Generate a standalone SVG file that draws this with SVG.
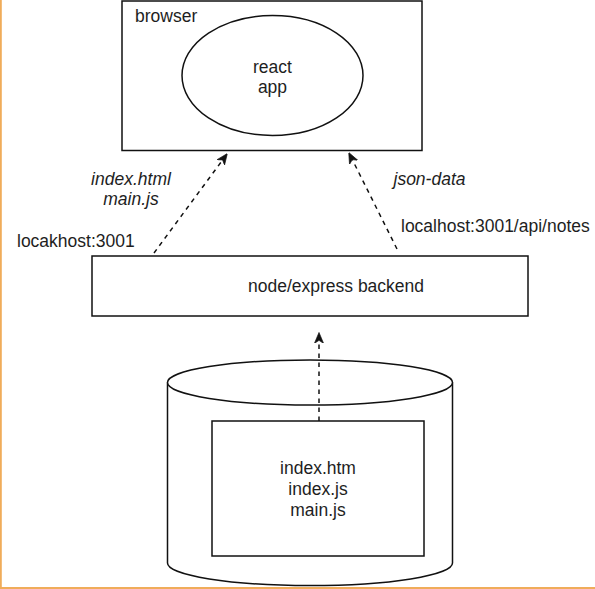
<svg xmlns="http://www.w3.org/2000/svg" width="595" height="589" viewBox="0 0 595 589">
<style>
.shape{fill:#fff;stroke:#111;stroke-width:1.5}
.txt{font-family:"Liberation Sans",Arial,sans-serif;font-size:17.5px;fill:#1e1e1e}
.it{font-style:italic}
.mid{text-anchor:middle}
.conn{fill:none;stroke:#111;stroke-width:1.5;stroke-dasharray:4.5 4.5}
</style>
<defs>
<marker id="arr" viewBox="0 0 10 10" refX="9.5" refY="5" markerWidth="11" markerHeight="11" markerUnits="userSpaceOnUse" orient="auto">
<path d="M0,0.8 L10,5 L0,9.2 L2.8,5 Z" fill="#111" stroke="#111" stroke-width="0.6"/>
</marker>
</defs>
<rect width="595" height="589" fill="#fff"/>
<g id="border">
<line x1="0.8" y1="0" x2="0.8" y2="589" stroke="#F0AC5A" stroke-width="2"/>
<line x1="0" y1="588" x2="595" y2="588" stroke="#F0AC5A" stroke-width="2"/>
</g>
<g id="browser">
<rect class="shape" x="122" y="1" width="300" height="149.5"/>
<text class="txt" x="135" y="22">browser</text>
</g>
<g id="react-app">
<ellipse class="shape" cx="272.5" cy="75.5" rx="90.5" ry="60"/>
<text class="txt mid" x="272.5" y="72.5">react</text>
<text class="txt mid" x="272.5" y="93">app</text>
</g>
<g id="backend">
<rect class="shape" x="92" y="256" width="436" height="60"/>
<text class="txt mid" x="336" y="292">node/express backend</text>
</g>
<g id="storage">
<path class="shape" d="M167.5,382.5 L167.5,563 A142.5,22.5 0 0 0 452.5,563 L452.5,382.5"/>
<ellipse class="shape" cx="310" cy="382.5" rx="142.5" ry="22.5"/>
</g>
<g id="files">
<rect class="shape" x="212" y="421" width="212" height="135"/>
<text class="txt mid" x="318" y="474">index.htm</text>
<text class="txt mid" x="318" y="495">index.js</text>
<text class="txt mid" x="318" y="516">main.js</text>
</g>
<g id="connectors">
<path class="conn" d="M154,253 L227,154" marker-end="url(#arr)"/>
<path class="conn" d="M397,249 L349,153" marker-end="url(#arr)"/>
<path class="conn" d="M319,421 L319,333" marker-end="url(#arr)"/>
</g>
<g id="labels">
<text class="txt it mid" x="131" y="185">index.html</text>
<text class="txt it mid" x="131" y="205">main.js</text>
<text class="txt it mid" x="429.5" y="185">json-data</text>
<text class="txt" x="17" y="247">locakhost:3001</text>
<text class="txt" x="401" y="232">localhost:3001/api/notes</text>
</g>
</svg>
